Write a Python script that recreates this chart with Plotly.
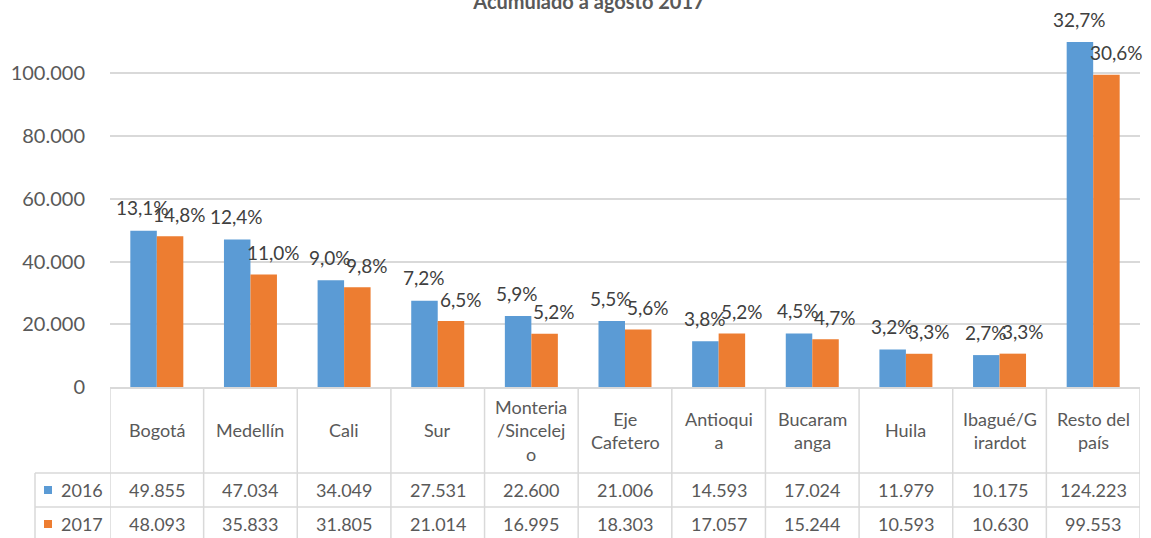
import plotly.graph_objects as go

# ---------------- data ----------------
categories = ["Bogotá", "Medellín", "Cali", "Sur", "Monteria/Sincelejo", "Eje Cafetero",
              "Antioquia", "Bucaramanga", "Huila", "Ibagué/Girardot", "Resto del país"]
header_labels = ["Bogotá", "Medellín", "Cali", "Sur", "Monteria<br>/Sincelej<br>o",
                 "Eje<br>Cafetero", "Antioqui<br>a", "Bucaram<br>anga", "Huila",
                 "Ibagué/G<br>irardot", "Resto del<br>país"]
series_names = ["2016", "2017"]
values_2016 = [49855, 47034, 34049, 27531, 22600, 21006, 14593, 17024, 11979, 10175, 124223]
values_2017 = [48093, 35833, 31805, 21014, 16995, 18303, 17057, 15244, 10593, 10630, 99553]
share_2016 = ["13,1%", "12,4%", "9,0%", "7,2%", "5,9%", "5,5%", "3,8%", "4,5%", "3,2%", "2,7%", "32,7%"]
share_2017 = ["14,8%", "11,0%", "9,8%", "6,5%", "5,2%", "5,6%", "5,2%", "4,7%", "3,3%", "3,3%", "30,6%"]
y_ticks = [0, 20000, 40000, 60000, 80000, 100000]
title_text = "Acumulado a agosto 2017"

# ---------------- style / layout constants ----------------
W, H = 1151, 538
PL, PR, PT, PB = 110, 1140, 42, 387
Y_MAX = 110000
COLORS = ["#5B9BD5", "#ED7D31"]
GRID = "#D9D9D9"
TXT = "#595959"
LBL = "#404040"
FONT = "Lato"


def px2x(px):
    return (px - PL) / (PR - PL)


def px2y(py):
    return (PB - py) / (PB - PT)


fig = go.Figure()
all_values = [values_2016, values_2017]
all_shares = [share_2016, share_2017]
for name, vals, col in zip(series_names, all_values, COLORS):
    fig.add_trace(go.Bar(x=categories, y=vals, name=name, marker_color=col,
                         marker_line_width=0, showlegend=False))

annotations = []
# data labels (percent share)
label_offsets = [(-14, 23), (23, 22)]
for vals, shares, (dx, dy) in zip(all_values, all_shares, label_offsets):
    for c, v, s in zip(categories, vals, shares):
        annotations.append(dict(x=c, y=min(v, Y_MAX), xref="x", yref="y", text=s,
                                showarrow=False, xanchor="center", yanchor="middle",
                                xshift=dx, yshift=dy,
                                font=dict(family=FONT, size=19, color=LBL)))

# table header: category names
for i, lab in enumerate(header_labels):
    annotations.append(dict(x=i, y=px2y(430), xref="x", yref="paper", text=lab,
                            showarrow=False, xanchor="center", yanchor="middle",
                            font=dict(family=FONT, size=18, color=TXT)))

# table rows
row_centers = [490, 524]
for name, vals, col, rc in zip(series_names, all_values, COLORS, row_centers):
    annotations.append(dict(x=px2x(59), y=px2y(rc), xref="paper", yref="paper", text=name,
                            showarrow=False, xanchor="left", yanchor="middle",
                            font=dict(family=FONT, size=18, color=TXT)))
    for i, v in enumerate(vals):
        annotations.append(dict(x=i, y=px2y(rc), xref="x", yref="paper",
                                text=f"{v:,}".replace(",", "."),
                                showarrow=False, xanchor="center", yanchor="middle",
                                font=dict(family=FONT, size=18, color=TXT)))

shapes = []
n = len(categories)
# vertical table lines
for k in range(n + 1):
    shapes.append(dict(type="line", xref="x", yref="paper", x0=k - 0.5, x1=k - 0.5,
                       y0=0, y1=px2y(560), line=dict(color=GRID, width=1.5)))
shapes.append(dict(type="line", xref="paper", yref="paper", x0=px2x(35), x1=px2x(35),
                   y0=px2y(473), y1=px2y(560), line=dict(color=GRID, width=1.5)))
# horizontal table lines
for yy in [473, 507]:
    shapes.append(dict(type="line", xref="paper", yref="paper", x0=px2x(35), x1=1,
                       y0=px2y(yy), y1=px2y(yy), line=dict(color=GRID, width=1.5)))
# legend keys
for col, rc in zip(COLORS, row_centers):
    shapes.append(dict(type="rect", xref="paper", yref="paper", x0=px2x(44), x1=px2x(52),
                       y0=px2y(rc + 4), y1=px2y(rc - 4), line=dict(width=0), fillcolor=col))

fig.update_layout(
    width=W, height=H, autosize=False,
    margin=dict(l=PL, r=W - PR, t=PT, b=H - PB, pad=0),
    paper_bgcolor="white", plot_bgcolor="white",
    separators=",.",
    barmode="group", bargap=0.434, bargroupgap=0,
    title=dict(text=title_text, x=px2x(589), xref="paper", xanchor="center",
               y=1.0, yref="container", yanchor="bottom", pad=dict(b=-9),
               font=dict(family=FONT, size=20, color=TXT, weight="bold")),
    xaxis=dict(type="category", range=[-0.5, n - 0.5], showticklabels=False,
               showgrid=False, showline=True, linecolor=GRID, linewidth=1.5,
               ticks="", zeroline=False),
    yaxis=dict(range=[0, Y_MAX], tickvals=y_ticks, tickformat=",d",
               showgrid=True, gridcolor=GRID, gridwidth=1.5, zeroline=False,
               showline=False, ticks="outside", ticklen=20, tickcolor="rgba(0,0,0,0)",
               tickfont=dict(family=FONT, size=20, color=TXT)),
    annotations=annotations, shapes=shapes,
)

fig.write_html("out.html", config={"displayModeBar": False},
               post_script="document.body.style.margin='0px';")
